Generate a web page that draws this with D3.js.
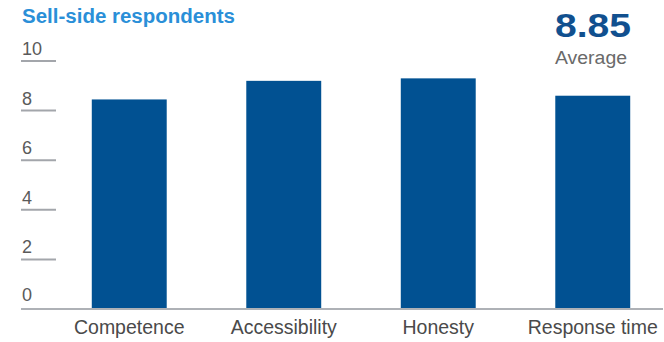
<!DOCTYPE html>
<html>
<head>
<meta charset="utf-8">
<script src="https://cdn.jsdelivr.net/npm/d3@7"></script>
<style>
  html, body { margin: 0; padding: 0; background: #fff; }
  svg { display: block; font-family: "Liberation Sans", Arial, sans-serif; }
</style>
</head>
<body>
<svg id="chart" width="664" height="342"></svg>
<script>
// Sell-side respondent scores by attribute
const categories = ["Competence", "Accessibility", "Honesty", "Response time"];
const scores = [8.45, 9.2, 9.3, 8.6];
const yTicks = [0, 2, 4, 6, 8, 10];
const titleText = "Sell-side respondents";
const averageText = "8.85";
const averageLabel = "Average";

const svg = d3.select("#chart");

const x = d3.scaleBand()
  .domain(categories)
  .range([52, 670])
  .paddingInner(0.515)
  .paddingOuter(0.2575);

const y = d3.scaleLinear()
  .domain([0, 10])
  .range([309, 61]);

// Title
svg.append("text")
  .attr("x", 22).attr("y", 23)
  .attr("font-size", 20).attr("font-weight", "bold")
  .attr("fill", "#2a8fd8")
  .attr("textLength", 213).attr("lengthAdjust", "spacingAndGlyphs")
  .text(titleText);

// Average callout
svg.append("text")
  .attr("x", 555).attr("y", 37)
  .attr("font-size", 33).attr("font-weight", "bold")
  .attr("fill", "#11508f")
  .attr("textLength", 76).attr("lengthAdjust", "spacingAndGlyphs")
  .text(averageText);
svg.append("text")
  .attr("x", 555).attr("y", 64)
  .attr("font-size", 18)
  .attr("fill", "#6a6a6a")
  .attr("textLength", 72).attr("lengthAdjust", "spacingAndGlyphs")
  .text(averageLabel);

// Y ticks: short rules with labels sitting above them
const tickG = svg.append("g");
tickG.selectAll("line.tick")
  .data(yTicks.filter(d => d > 0))
  .join("line")
  .attr("class", "tick")
  .attr("x1", 21).attr("x2", 56)
  .attr("y1", d => y(d)).attr("y2", d => y(d))
  .attr("stroke", "#a3a6ab").attr("stroke-width", 2);
tickG.selectAll("text")
  .data(yTicks)
  .join("text")
  .attr("x", 22)
  .attr("y", d => y(d) - (d === 0 ? 8 : 6))
  .attr("font-size", 18)
  .attr("fill", "#5a5a5a")
  .text(d => d);

// Bars
svg.append("g").selectAll("rect")
  .data(categories.map((c, i) => ({ c, v: scores[i] })))
  .join("rect")
  .attr("x", d => x(d.c))
  .attr("width", x.bandwidth())
  .attr("y", d => y(d.v))
  .attr("height", d => y(0) - y(d.v))
  .attr("fill", "#015192");

// Baseline
svg.append("line")
  .attr("x1", 21).attr("x2", 663)
  .attr("y1", y(0)).attr("y2", y(0))
  .attr("stroke", "#aeb1b6").attr("stroke-width", 2);

// Category labels
svg.append("g").selectAll("text")
  .data(categories)
  .join("text")
  .attr("x", d => x(d) + x.bandwidth() / 2)
  .attr("y", 334)
  .attr("text-anchor", "middle")
  .attr("font-size", 19.5)
  .attr("fill", "#4a4a4a")
  .text(d => d);
</script>
</body>
</html>
